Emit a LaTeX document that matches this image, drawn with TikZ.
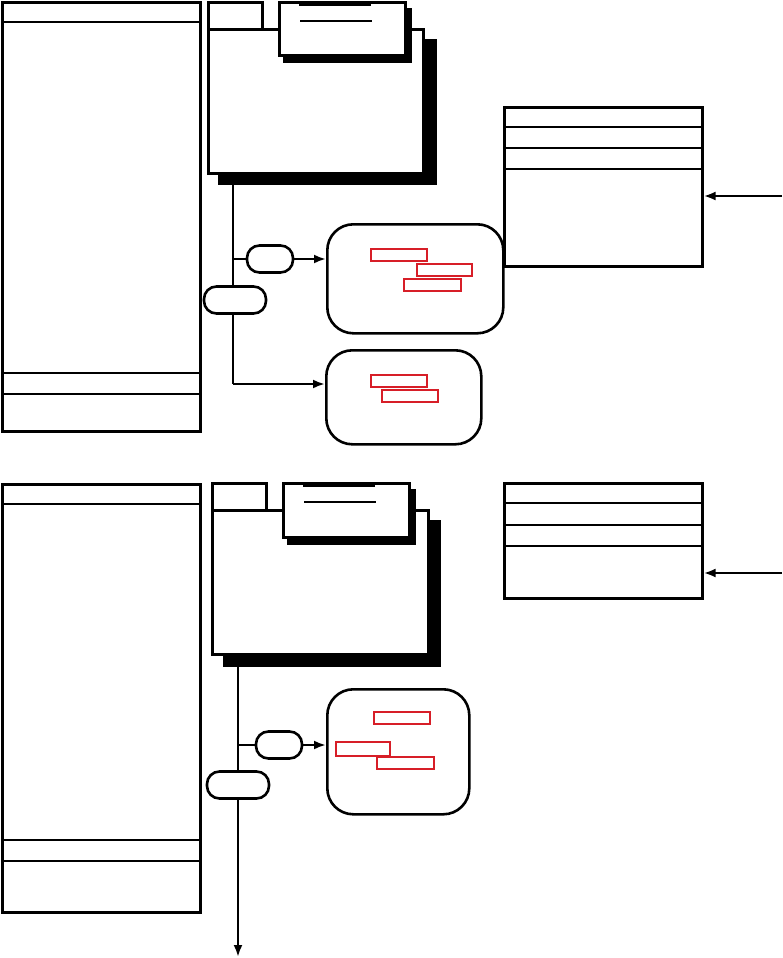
\documentclass[tikz,border=0pt]{standalone}
\usetikzlibrary{arrows.meta,positioning}
\definecolor{tagred}{RGB}{215,30,40}
\tikzset{
  panel/.style={draw, line width=2.6pt, inner sep=0pt, anchor=north west},
  shade/.style={fill=black, inner sep=0pt, anchor=north west},
  card/.style={draw, fill=white, line width=2.6pt, inner sep=0pt, anchor=north west},
  pill/.style={draw, fill=white, line width=2.6pt, rounded corners=12.5pt, minimum width=46pt, minimum height=27pt, inner sep=0pt},
  bubble/.style={draw, line width=2.6pt, rounded corners=26pt, inner sep=0pt, anchor=north west},
  tag/.style={draw=tagred, line width=1.5pt, minimum width=56pt, minimum height=12pt, inner sep=0pt, anchor=north west},
  divider/.style={line width=2.2pt},
  link/.style={line width=2.6pt},
  flow/.style={-{Latex[length=12pt,width=9pt]}, line width=2.6pt}
}

\begin{document}
\begin{tikzpicture}[x=1pt, y=-1pt]
  \useasboundingbox (0,0) rectangle (782,958);

  % Upper left panel
  \node[panel, minimum width=198pt, minimum height=429pt] (leftA) at (1,1) {};
  \foreach \y in {22,373,394}
    \draw[divider] (leftA.west |- 0,\y) -- (leftA.east |- 0,\y);

  % Upper folder with note
  \node[shade, minimum width=219pt, minimum height=146pt] (f1shade) at (218,39) {};
  \node[card, minimum width=215pt, minimum height=144pt] (f1body) at (207,28) {};
  \node[card, minimum width=54pt, minimum height=27pt] (f1tab) at (207,1) {};
  \node[shade, minimum width=129pt, minimum height=55pt] (n1shade) at (283,8) {};
  \node[card, minimum width=126pt, minimum height=53pt] (n1note) at (278,1) {};
  \draw[link] ([xshift=21pt,yshift=-4pt]n1note.north west) -- ++(72,0);
  \draw[link] ([xshift=22pt,yshift=-20pt]n1note.north west) -- ++(72,0);

  % Upper states
  \node[bubble, minimum width=176pt, minimum height=109pt] (b1) at (326,223) {};
  \node[tag] (t1) at (370,248) {};
  \node[tag, minimum width=55pt] (t2) at (416,263) {};
  \node[tag, minimum width=57pt] (t3) at (403,278) {};
  \node[bubble, minimum width=155pt, minimum height=94pt] (b2) at (325,349) {};
  \node[tag] (t4) at (370,374) {};
  \node[tag] (t5) at (381,389) {};

  % Upper right table
  \node[panel, minimum width=198pt, minimum height=159pt] (tA) at (503,106) {};
  \foreach \y in {127,148,169}
    \draw[divider] (tA.west |- 0,\y) -- (tA.east |- 0,\y);
  \coordinate (srcA) at (782,196);
  \draw[flow] (srcA) -- (srcA -| tA.east);

  % Upper flows
  \coordinate (j1) at (233,259);
  \coordinate (c1) at (233,384);
  \draw[link] (f1shade.south -| j1) -- (c1);
  \draw[flow] (c1) -- (c1 -| b2.west);
  \node[pill] (p1) at (270,259) {};
  \draw[link] (j1) -- (p1);
  \draw[flow] (p1) -- (p1 -| b1.west);
  \node[pill, minimum width=62pt] (p2) at (235,300) {};

  % Lower left panel
  \node[panel, minimum width=198pt, minimum height=428pt] (leftB) at (1,483) {};
  \foreach \y in {504,840,861}
    \draw[divider] (leftB.west |- 0,\y) -- (leftB.east |- 0,\y);

  % Lower folder with note
  \node[shade, minimum width=218pt, minimum height=147pt] (f2shade) at (223,520) {};
  \node[card, minimum width=216pt, minimum height=144pt] (f2body) at (211,509) {};
  \node[card, minimum width=54pt, minimum height=27pt] (f2tab) at (211,482) {};
  \node[shade, minimum width=129pt, minimum height=56pt] (n2shade) at (287,489) {};
  \node[card, minimum width=126pt, minimum height=54pt] (n2note) at (282,482) {};
  \draw[link] ([xshift=21pt,yshift=-4pt]n2note.north west) -- ++(72,0);
  \draw[link] ([xshift=22pt,yshift=-20pt]n2note.north west) -- ++(72,0);

  % Lower state
  \node[bubble, minimum width=142pt, minimum height=125pt] (b3) at (326,688) {};
  \node[tag] (t6) at (373,711) {};
  \node[tag, minimum width=54pt, minimum height=14pt] (t7) at (335,741) {};
  \node[tag, minimum width=57pt] (t8) at (376,756) {};

  % Lower right table
  \node[panel, minimum width=198pt, minimum height=115pt] (tB) at (503,482) {};
  \foreach \y in {503,525,546}
    \draw[divider] (tB.west |- 0,\y) -- (tB.east |- 0,\y);
  \coordinate (srcB) at (782,573);
  \draw[flow] (srcB) -- (srcB -| tB.east);

  % Lower flows
  \coordinate (j2) at (238,745);
  \coordinate (exit) at (238,957);
  \draw[flow] (f2shade.south -| j2) -- (exit);
  \node[pill] (p3) at (279,745) {};
  \draw[link] (j2) -- (p3);
  \draw[flow] (p3) -- (p3 -| b3.west);
  \node[pill, minimum width=62pt] (p4) at (238,785) {};
\end{tikzpicture}
\end{document}
